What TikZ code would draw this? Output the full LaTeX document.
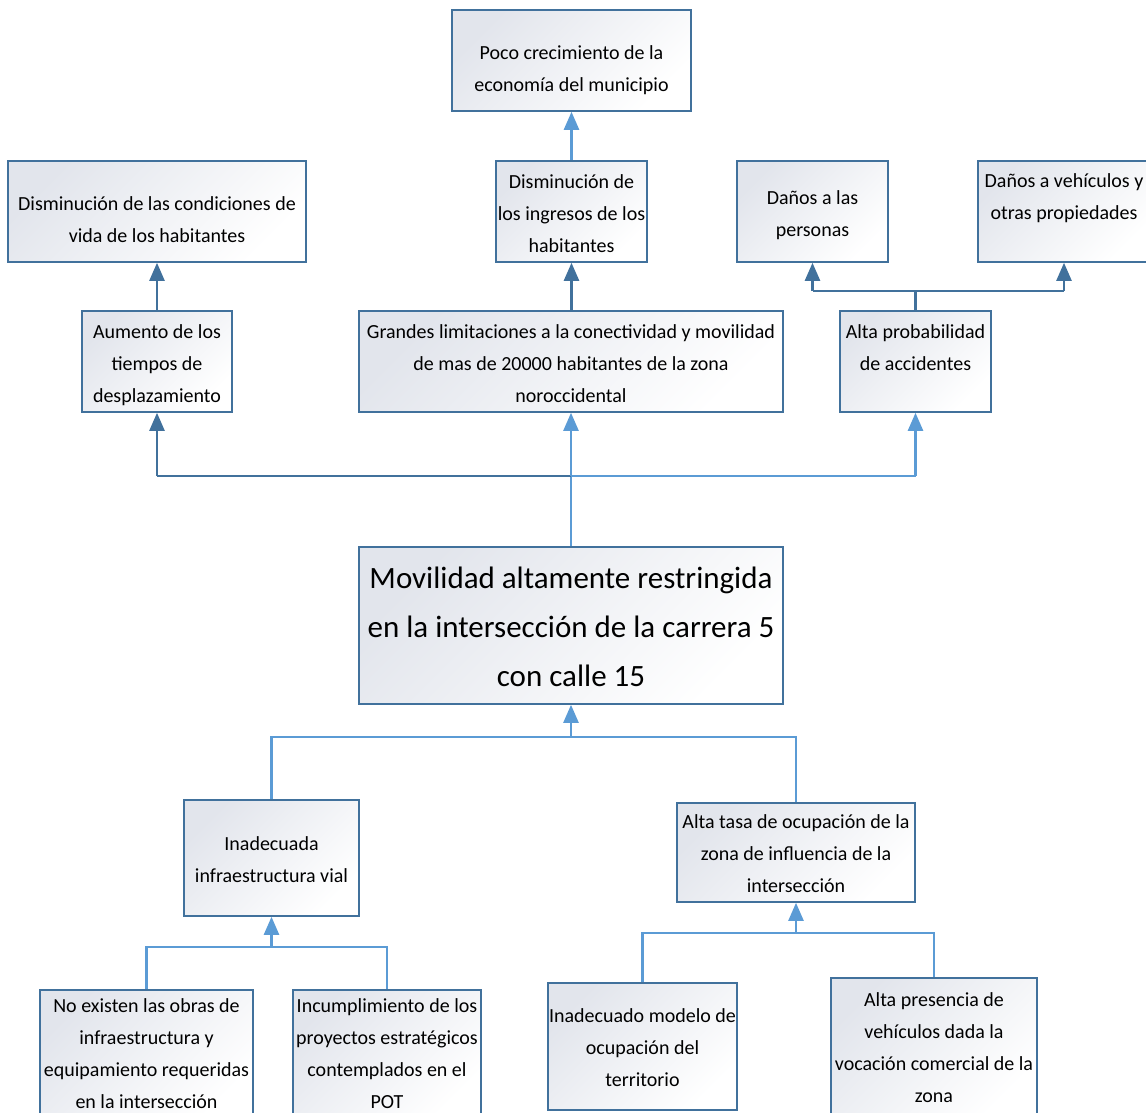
\documentclass[tikz,border=0pt]{standalone}
\usepackage{fontspec}
\setmainfont{Carlito}
\usetikzlibrary{arrows.meta}
\definecolor{edgedark}{HTML}{41719C}
\definecolor{edgelight}{HTML}{5B9BD5}
\definecolor{fillgrey}{HTML}{E2E5EC}
\tikzset{
  card/.style={draw=edgedark, line width=1.6pt, top color=fillgrey, bottom color=white,
    shading angle=45, inner sep=0pt},
  words/.style={align=center, inner sep=0pt, text=black,
    font=\fontsize{20}{32}\selectfont},
  bigwords/.style={words, font=\fontsize{31}{49}\selectfont},
  linkdark/.style={draw=edgedark, line width=2.4pt},
  linklight/.style={draw=edgelight, line width=2.4pt},
  tip/.style={-{Triangle[width=15pt,length=18pt]}},
}
\begin{document}
\begin{tikzpicture}[x=1pt, y=-1pt]
\useasboundingbox (0,0) rectangle (1146,1112);
\clip (0,0) rectangle (1146,1112);

% effects, top row
\node[card, minimum width=239pt, minimum height=101pt] (b1) at (571.5,60.5) {};
\node[card, minimum width=298pt, minimum height=101pt] (b2) at (157,211.5) {};
\node[card, minimum width=151pt, minimum height=101pt] (b3) at (571.5,211.5) {};
\node[card, minimum width=151pt, minimum height=101pt] (b4) at (812.5,211.5) {};
\node[card, minimum width=172pt, minimum height=101pt] (b5) at (1064,211.5) {};

% direct effects
\node[card, minimum width=150pt, minimum height=101pt] (b6) at (157,361.5) {};
\node[card, minimum width=424pt, minimum height=101pt] (b7) at (571,361.5) {};
\node[card, minimum width=151pt, minimum height=101pt] (b8) at (915.5,361.5) {};

% central problem
\node[card, minimum width=424pt, minimum height=157pt] (core) at (571,625.5) {};

% causes
\node[card, minimum width=175pt, minimum height=116pt] (b9) at (271.5,858) {};
\node[card, minimum width=238pt, minimum height=99pt] (b10) at (796,852.5) {};
\node[card, minimum width=213pt, minimum height=128pt] (b11) at (146.5,1054) {};
\node[card, minimum width=188pt, minimum height=128pt] (b12) at (387,1054) {};
\node[card, minimum width=189pt, minimum height=127pt] (b13) at (642.5,1046.5) {};
\node[card, minimum width=206pt, minimum height=136pt] (b14) at (934,1046) {};

% box texts
\node[words, yshift=-10pt] (t1) at (b1.center) {Poco crecimiento de la\\economía del municipio};
\node[words, yshift=-8pt] (t2) at (b2.center) {Disminución de las condiciones de\\vida de los habitantes};
\node[words, yshift=-2pt] (t3) at (b3.center) {Disminución de\\los ingresos de los\\habitantes};
\node[words, yshift=-4pt] (t4) at (b4.center) {Daños a las\\personas};
\node[words, yshift=13pt] (t5) at (b5.center) {Daños a vehículos y\\otras propiedades};
\node[words, yshift=-4pt] (t6) at (b6.center) {Aumento de los\\tiempos de\\desplazamiento};
\node[words, yshift=-2pt] (t7) at (b7.center)
  {Grandes limitaciones a la conectividad y movilidad\\de mas de 20000 habitantes de la zona\\noroccidental};
\node[words, yshift=14pt] (t8) at (b8.center) {Alta probabilidad\\de accidentes};
\node[bigwords, yshift=-1pt] (tc) at (core.center)
  {Movilidad altamente restringida\\en la intersección de la carrera 5\\con calle 15};
\node[words, yshift=-2pt] (t9) at (b9.center) {Inadecuada\\infraestructura vial};
\node[words, yshift=-1pt] (t10) at (b10.center) {Alta tasa de ocupación de la\\zona de influencia de la\\intersección};
\node[words] (t11) at (b11.center) {No existen las obras de\\infraestructura y\\equipamiento requeridas\\en la intersección};
\node[words] (t12) at (b12.center) {Incumplimiento de los\\proyectos estratégicos\\contemplados en el\\POT};
\node[words, yshift=-1pt] (t13) at (b13.center) {Inadecuado modelo de\\ocupación del\\territorio};
\node[words, yshift=-1.5pt] (t14) at (b14.center) {Alta presencia de\\vehículos dada la\\vocación comercial de la\\zona};

% junction points
\coordinate (jacc) at (915.5,291);
\coordinate (jtop) at (571,476);
\coordinate (jbot) at (571,737);
\coordinate (jinf) at (271.5,947);
\coordinate (jocc) at (796,933);

% upper connectors
\draw[linklight, tip] (b3.north) -- (b3.north |- b1.south);
\draw[linkdark, tip] (b6.north) -- (b2.south);
\draw[linkdark, tip] (b7.north -| b3.south) -- (b3.south);
\draw[linkdark] (b8.north) -- (jacc);
\draw[linkdark] (b4.south |- jacc) -- (b5.south |- jacc);
\draw[linkdark, tip] (b4.south |- jacc) -- (b4.south);
\draw[linkdark, tip] (b5.south |- jacc) -- (b5.south);

% central problem to its effects
\draw[linklight] (core.north) -- (jtop);
\draw[linkdark] (b6.south |- jtop) -- (jtop);
\draw[linklight] (jtop) -- (b8.south |- jtop);
\draw[linkdark, tip] (b6.south |- jtop) -- (b6.south);
\draw[linklight, tip] (jtop) -- (b7.south);
\draw[linklight, tip] (b8.south |- jtop) -- (b8.south);

% causes to central problem
\draw[linklight] (b9.north) -- (b9.north |- jbot) -- (b10.north |- jbot) -- (b10.north);
\draw[linklight, tip] (jbot) -- (core.south);

\draw[linklight] (b11.north) -- (b11.north |- jinf) -- (b12.north |- jinf) -- (b12.north);
\draw[linklight, tip] (jinf) -- (b9.south);

\draw[linklight] (b13.north) -- (b13.north |- jocc) -- (b14.north |- jocc) -- (b14.north);
\draw[linklight, tip] (jocc) -- (b10.south);
\end{tikzpicture}
\end{document}
